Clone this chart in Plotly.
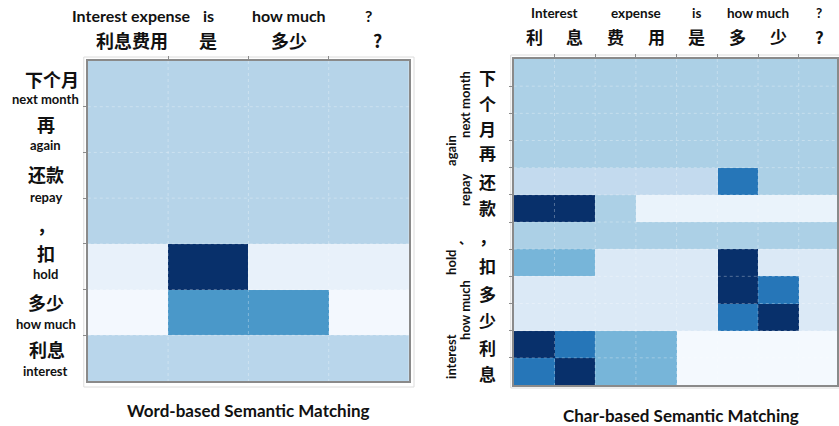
import plotly.graph_objects as go

W, H = 839, 426

# ---------------- data ----------------
left_cols = ["利息费用", "是", "多少", "?"]
left_cols_en = ["Interest expense", "is", "how much", "?"]
left_rows = ["下个月", "再", "还款", "，", "扣", "多少", "利息"]
left_rows_en = ["next month", "again", "repay", "", "hold", "how much", "interest"]
left_z = [
    [0.30, 0.30, 0.30, 0.30],
    [0.30, 0.30, 0.30, 0.30],
    [0.30, 0.30, 0.30, 0.30],
    [0.30, 0.30, 0.30, 0.30],
    [0.075, 1.00, 0.075, 0.075],
    [0.02, 0.60, 0.60, 0.02],
    [0.29, 0.29, 0.29, 0.29],
]

right_cols = ["利", "息", "费", "用", "是", "多", "少", "?"]
right_cols_en = ["Interest", "expense", "is", "how much", "?"]
right_cols_en_pos = [0.5, 2.5, 4.0, 5.5, 7.0]
right_rows = ["下", "个", "月", "再", "还", "款", "，", "扣", "多", "少", "利", "息"]
right_rows_en = ["next month", "again", "repay", "、", "hold", "how much", "interest"]
right_z = [
    [0.33, 0.33, 0.33, 0.33, 0.33, 0.33, 0.33, 0.33],
    [0.33, 0.33, 0.33, 0.33, 0.33, 0.33, 0.33, 0.33],
    [0.33, 0.33, 0.33, 0.33, 0.33, 0.33, 0.33, 0.33],
    [0.33, 0.33, 0.33, 0.33, 0.33, 0.33, 0.33, 0.33],
    [0.26, 0.26, 0.26, 0.26, 0.26, 0.73, 0.33, 0.33],
    [1.00, 1.00, 0.33, 0.065, 0.065, 0.065, 0.065, 0.065],
    [0.33, 0.33, 0.33, 0.33, 0.33, 0.33, 0.33, 0.33],
    [0.47, 0.47, 0.14, 0.14, 0.14, 1.00, 0.14, 0.14],
    [0.14, 0.14, 0.14, 0.14, 0.14, 1.00, 0.73, 0.14],
    [0.14, 0.14, 0.14, 0.14, 0.14, 0.73, 1.00, 0.14],
    [1.00, 0.73, 0.47, 0.47, 0.015, 0.015, 0.015, 0.015],
    [0.73, 1.00, 0.47, 0.47, 0.015, 0.015, 0.015, 0.015],
]

titles = ["Word-based Semantic Matching", "Char-based Semantic Matching"]

blues = ["#f7fbff", "#deebf7", "#c6dbef", "#9ecae1", "#6baed6",
         "#4292c6", "#2171b5", "#08519c", "#08306b"]
cscale = [[i / (len(blues) - 1), c] for i, c in enumerate(blues)]

EN = "Lato, 'Open Sans', sans-serif"
ZH = "'Noto Sans CJK SC', sans-serif"


def px(x):
    return x / W


def py(y):
    return 1 - y / H


fig = go.Figure()

fig.add_trace(go.Heatmap(
    z=left_z, x=list(range(len(left_cols))), y=list(range(len(left_rows))),
    colorscale=cscale, zmin=0, zmax=1, showscale=False, xaxis="x", yaxis="y",
    hoverinfo="skip"))
fig.add_trace(go.Heatmap(
    z=right_z, x=list(range(len(right_cols))), y=list(range(len(right_rows))),
    colorscale=cscale, zmin=0, zmax=1, showscale=False, xaxis="x2", yaxis="y2",
    hoverinfo="skip"))

axis_common = dict(showgrid=False, zeroline=False, showticklabels=False,
                   ticks="outside", ticklen=3, tickcolor="#8c8c8c",
                   showline=True, mirror=True, linecolor="#8a8a8a", linewidth=1.5)

nl, ml = len(left_cols), len(left_rows)
nr, mr = len(right_cols), len(right_rows)

fig.update_layout(
    width=W, height=H, margin=dict(l=0, r=0, t=0, b=0),
    paper_bgcolor="white", plot_bgcolor="white", showlegend=False,
    xaxis=dict(domain=[px(88), px(410)], range=[-0.5, nl - 0.5], side="top",
               tickvals=[k + 0.5 for k in range(nl - 1)], anchor="y", **axis_common),
    yaxis=dict(domain=[py(381), py(61)], range=[ml - 0.5, -0.5],
               tickvals=[k + 0.5 for k in range(ml - 1)], anchor="x", **axis_common),
    xaxis2=dict(domain=[px(515), 1.0], range=[-0.5, 7.44], side="top",
                tickvals=[k + 0.5 for k in range(nr - 1)], anchor="y2", **axis_common),
    yaxis2=dict(domain=[py(385), py(59)], range=[mr - 0.5, -0.5],
                tickvals=[k + 0.5 for k in range(mr - 1)], anchor="x2", **axis_common),
)

shapes = []
# outer light frames
shapes.append(dict(type="rect", xref="paper", yref="paper", x0=px(84), x1=px(415),
                   y0=py(387), y1=py(57), line=dict(color="#dcdcdc", width=1), layer="below"))
shapes.append(dict(type="rect", xref="paper", yref="paper", x0=px(512), x1=px(845),
                   y0=py(388), y1=py(55), line=dict(color="#dcdcdc", width=1), layer="below"))
# dotted cell grid lines
grid = dict(color="rgba(255,255,255,0.3)", width=1, dash="dot")
for k in range(nl - 1):
    shapes.append(dict(type="line", xref="x", yref="y", x0=k + 0.5, x1=k + 0.5,
                       y0=-0.5, y1=ml - 0.5, line=grid, layer="above"))
for k in range(ml - 1):
    shapes.append(dict(type="line", xref="x", yref="y", y0=k + 0.5, y1=k + 0.5,
                       x0=-0.5, x1=nl - 0.5, line=grid, layer="above"))
for k in range(nr - 1):
    shapes.append(dict(type="line", xref="x2", yref="y2", x0=k + 0.5, x1=k + 0.5,
                       y0=-0.5, y1=mr - 0.5, line=grid, layer="above"))
for k in range(mr - 1):
    shapes.append(dict(type="line", xref="x2", yref="y2", y0=k + 0.5, y1=k + 0.5,
                       x0=-0.5, x1=7.44, line=grid, layer="above"))
fig.update_layout(shapes=shapes)

ann = []


def text(x, y, s, size, font, xref="paper", yref="paper", angle=0, color="#111"):
    ann.append(dict(x=x, y=y, xref=xref, yref=yref, text="<b>" + s + "</b>",
                    showarrow=False, textangle=angle, xanchor="center", yanchor="middle",
                    font=dict(family=font, size=size, color=color)))


# left top labels
left_zh_dx = [0.05, 0.0, 0.0, 0.11]
for i, s in enumerate(left_cols):
    text(i + left_zh_dx[i], py(40), s, 18, ZH, xref="x")
left_en_dx = [0.05, 0.0, 0.0, 0.0]
for i, s in enumerate(left_cols_en):
    text(i + left_en_dx[i], py(16), s, 16, EN, xref="x")

# left row labels
left_zh_x = [52, 46, 46, 46, 46, 46, 47]
left_zh_y = [79, 124, 174, 225, 253, 302, 349]
left_en_y = [99, 145, 197, None, 274, 324, 371]
for i, s in enumerate(left_rows):
    text(px(left_zh_x[i]), py(left_zh_y[i]), s, 18, ZH)
    if left_rows_en[i]:
        text(px(46), py(left_en_y[i]), left_rows_en[i], 13, EN)

# right top labels
for i, s in enumerate(right_cols):
    text(i, py(36), s, 17, ZH, xref="x2")
for s, xpos in zip(right_cols_en, right_cols_en_pos):
    text(xpos, py(13), s, 13.5, EN, xref="x2")

# right row labels (chinese chars)
right_zh_y = [78, 103, 128, 153, 182, 208, 236, 265, 293, 320, 347, 373]
for i, s in enumerate(right_rows):
    text(px(489), py(right_zh_y[i]), s, 17, ZH)

# rotated english labels
rot_pos = [(466, 104), (452, 150), (466, 190), (467, 238), (452, 262), (466, 310), (452, 356)]
for s, (x, y) in zip(right_rows_en, rot_pos):
    if s == "、":
        text(px(x), py(y), s, 13, ZH)
    else:
        text(px(x), py(y), s, 13, EN, angle=-90)

# bottom titles
text(px(249), py(410), titles[0], 17, EN)
text(px(683), py(415), titles[1], 17, EN)

fig.update_layout(annotations=ann)
fig.write_html("out.html", config={"displayModeBar": False},
               post_script="document.body.style.margin='0';document.body.style.overflow='hidden';")
